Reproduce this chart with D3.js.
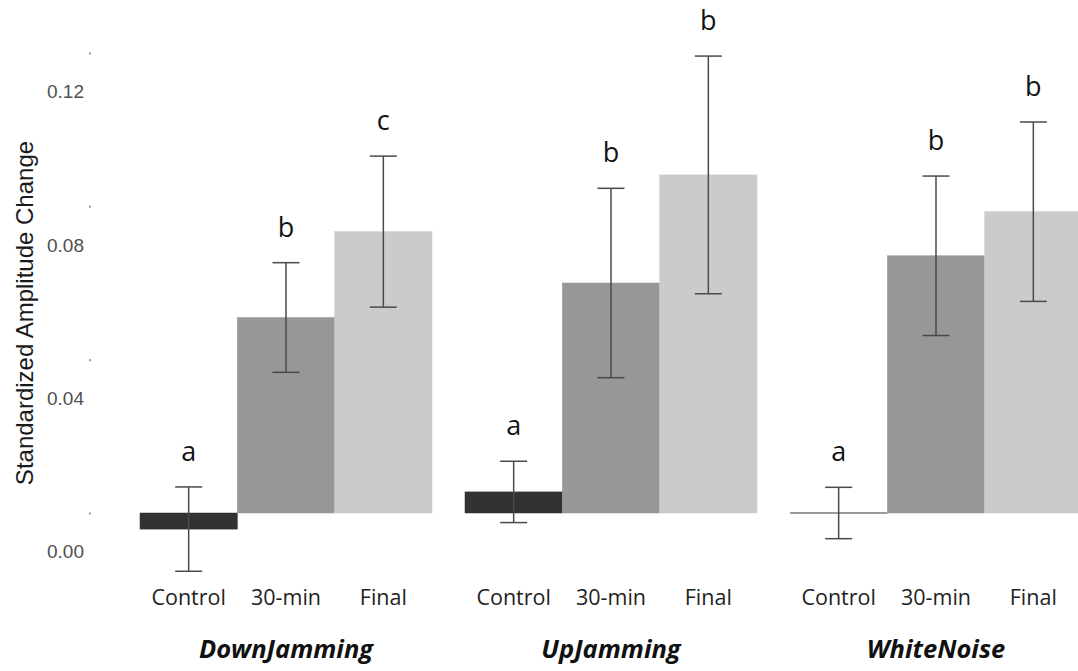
<!DOCTYPE html>
<html>
<head>
<meta charset="utf-8">
<script src="https://cdnjs.cloudflare.com/ajax/libs/d3/7.8.5/d3.min.js"></script>
<style>
  html, body { margin: 0; padding: 0; background: #fff; }
  svg { display: block; }
</style>
</head>
<body>
<svg id="chart" width="1078" height="671"></svg>
<script>
// data
var groups = ["DownJamming", "UpJamming", "WhiteNoise"];
var conditions = ["Control", "30-min", "Final"];
var means = [
    [-0.0042, 0.0510, 0.0734],
    [0.0055, 0.0600, 0.0882],
    [0.0000, 0.0671, 0.0786]
];
var errors = [
    [0.0110, 0.0143, 0.0197],
    [0.0080, 0.0247, 0.0310],
    [0.0067, 0.0208, 0.0234]
];
var letters = [
    ["a", "b", "c"],
    ["a", "b", "b"],
    ["a", "b", "b"]
];
var yTicks = [0, 0.04, 0.08, 0.12];

var colors = { "Control": "#323232", "30-min": "#979797", "Final": "#cbcbcb" };

var svg = d3.select("#chart");

var x0 = d3.scaleBand().domain(groups).range([140, 1082]).paddingInner(0.1015).paddingOuter(0);
var x1 = d3.scaleBand().domain(conditions).range([0, x0.bandwidth()]).padding(0);
var y = d3.scaleLinear().domain([0, 0.12]).range([513, 53]);

// flatten to one row per bar
var rows = [];
groups.forEach(function (g, i) {
    conditions.forEach(function (c, j) {
        rows.push({ group: g, cond: c, mean: means[i][j], se: errors[i][j], letter: letters[i][j] });
    });
});

// y axis: only small dots as ticks, labels sit lower than their ticks (as in the figure)
var yAxis = svg.append("g")
    .attr("transform", "translate(91,0)")
    .call(d3.axisLeft(y).tickValues(yTicks).tickSize(2).tickFormat(d3.format(".2f")));
yAxis.select(".domain").remove();
yAxis.selectAll(".tick line").attr("stroke", "#9a9a9a").attr("stroke-width", 2);
yAxis.selectAll(".tick text")
    .attr("x", -7)
    .attr("y", 38)
    .attr("dy", "0.36em")
    .style("font-family", "'Liberation Sans', Arial, sans-serif")
    .style("font-size", "19px")
    .attr("fill", "#505050");

svg.append("text")
    .attr("transform", "translate(33,313) rotate(-90)")
    .attr("text-anchor", "middle")
    .style("font-family", "'Liberation Sans', Arial, sans-serif")
    .style("font-size", "24px")
    .attr("fill", "#1a1a1a")
    .text("Standardized Amplitude Change");

var bar = svg.append("g").selectAll("g")
    .data(rows)
    .enter().append("g")
    .attr("transform", function (d) { return "translate(" + (x0(d.group) + x1(d.cond)) + ",0)"; });

bar.append("rect")
    .attr("x", 0)
    .attr("width", x1.bandwidth())
    .attr("y", function (d) { return Math.min(y(d.mean), y(0)); })
    .attr("height", function (d) { return Math.abs(y(d.mean) - y(0)); })
    .attr("fill", function (d) { return colors[d.cond]; })
    .attr("stroke", function (d) { return colors[d.cond]; })
    .attr("stroke-width", 0.5);

// a zero-height bar still shows as a thin line on the baseline
bar.filter(function (d) { return d.mean === 0; })
    .append("line")
    .attr("x1", 0).attr("x2", x1.bandwidth())
    .attr("y1", y(0)).attr("y2", y(0))
    .attr("stroke", "#7a7a7a")
    .attr("stroke-width", 1.5);

var cx = x1.bandwidth() / 2;
var cap = 13.5;
var err = bar.append("g").attr("stroke", "#4a4a4a").attr("stroke-width", 1.5).attr("fill", "none");
err.append("line")
    .attr("x1", cx).attr("x2", cx)
    .attr("y1", function (d) { return y(d.mean + d.se); })
    .attr("y2", function (d) { return y(d.mean - d.se); });
err.append("line")
    .attr("x1", cx - cap).attr("x2", cx + cap)
    .attr("y1", function (d) { return y(d.mean + d.se); })
    .attr("y2", function (d) { return y(d.mean + d.se); });
err.append("line")
    .attr("x1", cx - cap).attr("x2", cx + cap)
    .attr("y1", function (d) { return y(d.mean - d.se); })
    .attr("y2", function (d) { return y(d.mean - d.se); });

// significance letters
bar.append("text")
    .attr("x", cx)
    .attr("y", function (d) { return y(d.mean + d.se) - 26; })
    .attr("text-anchor", "middle")
    .style("font-family", "'Open Sans', 'Noto Sans', sans-serif")
    .style("font-size", "27px")
    .attr("fill", "#111")
    .text(function (d) { return d.letter; });

// condition labels
bar.append("text")
    .attr("x", cx)
    .attr("y", 605)
    .attr("text-anchor", "middle")
    .style("font-family", "'Open Sans', 'Noto Sans', sans-serif")
    .style("font-size", "21.5px")
    .attr("fill", "#222")
    .text(function (d) { return d.cond; });

// group labels
svg.append("g").selectAll("text")
    .data(groups)
    .enter().append("text")
    .attr("x", function (g) { return x0(g) + x0.bandwidth() / 2; })
    .attr("y", 658)
    .attr("text-anchor", "middle")
    .style("font-family", "'Open Sans', 'Noto Sans', sans-serif")
    .style("font-size", "25.5px")
    .style("font-weight", "bold")
    .style("font-style", "italic")
    .attr("fill", "#111")
    .text(function (g) { return g; });
</script>
</body>
</html>
